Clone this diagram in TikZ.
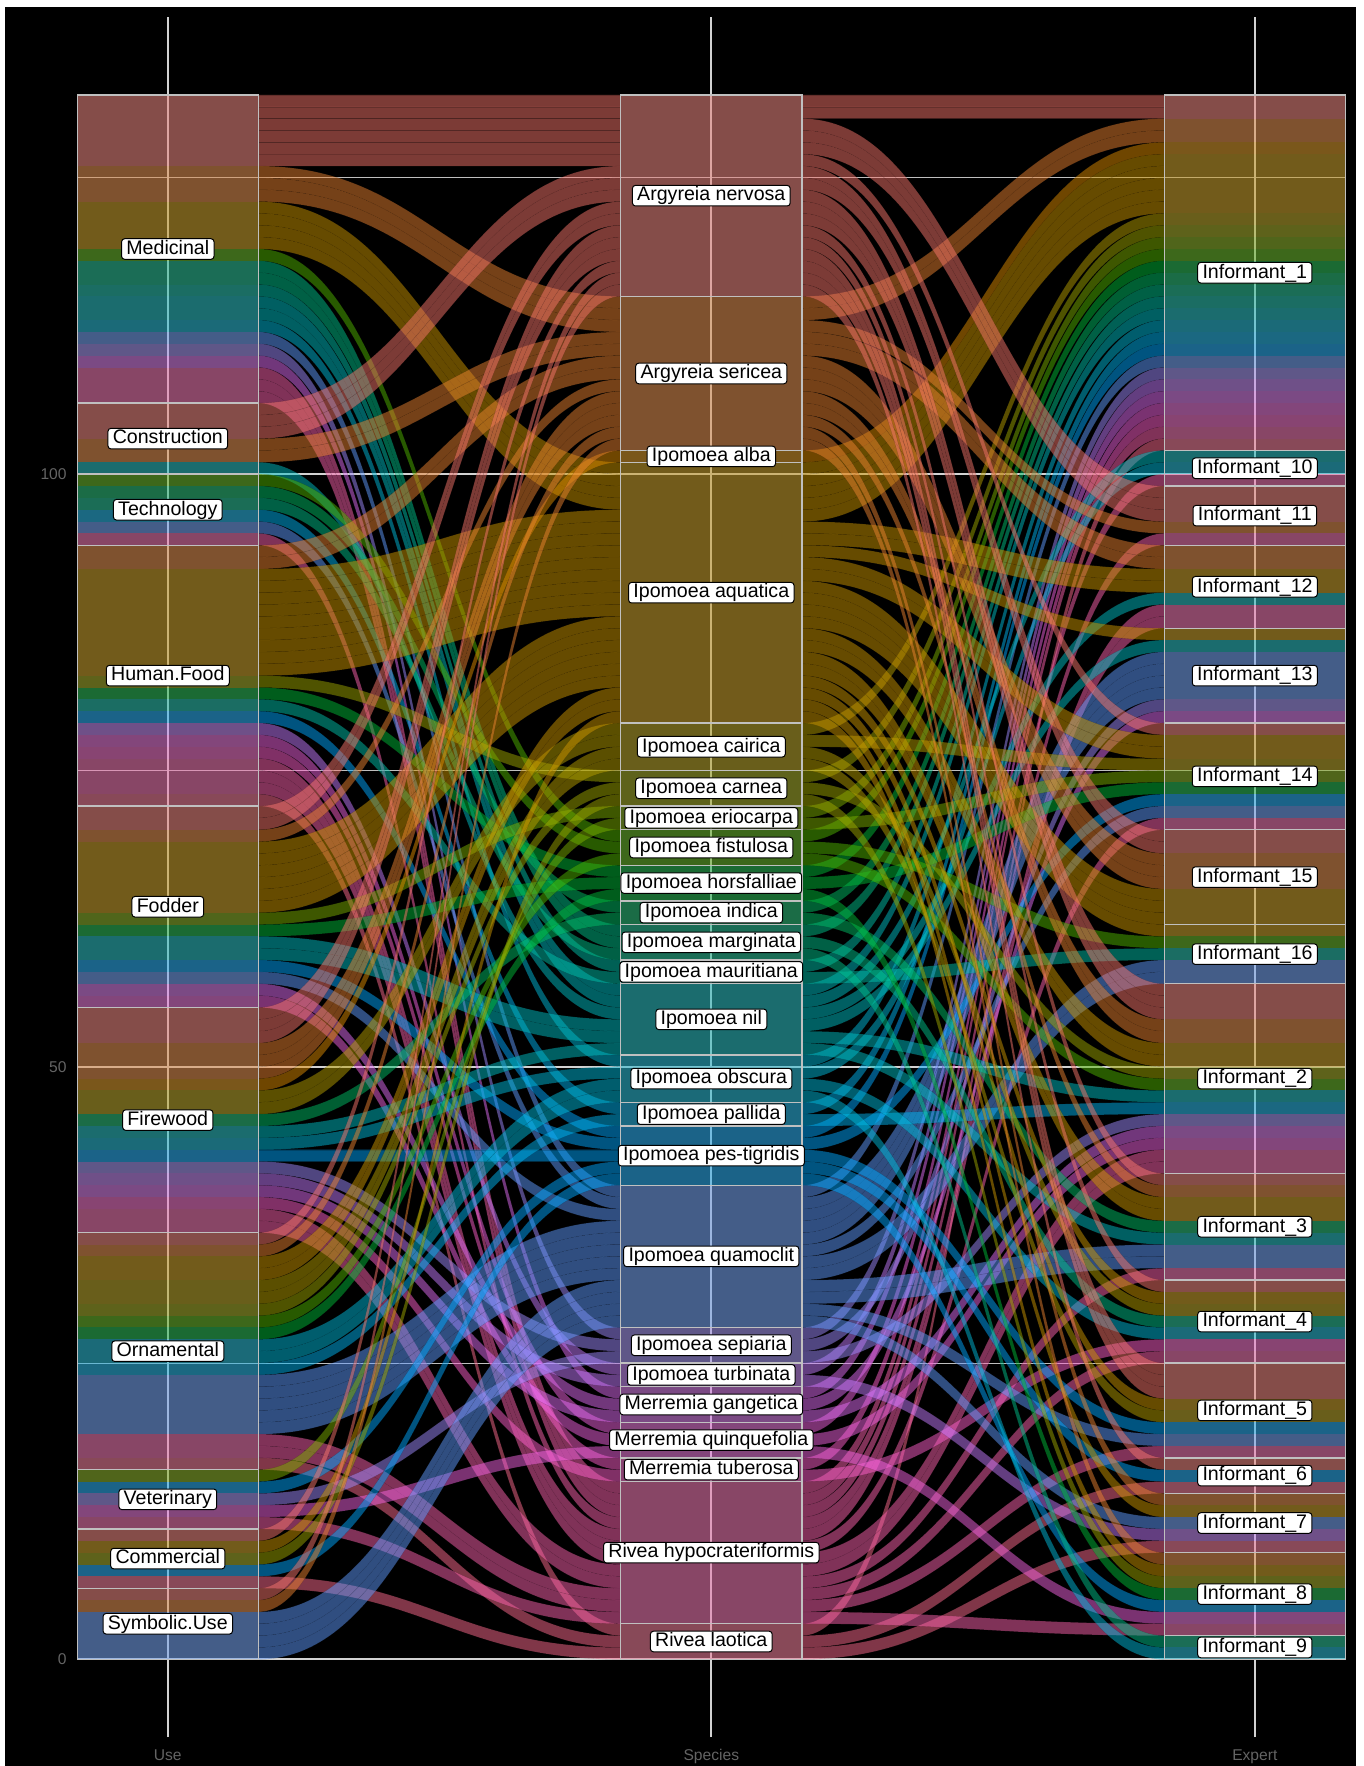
\documentclass[tikz,border=0pt]{standalone}
\usepackage{fontspec}
\setmainfont{Liberation Sans}
\definecolor{sp1}{HTML}{F8766D}
\definecolor{sp2}{HTML}{EA8331}
\definecolor{sp3}{HTML}{DE8C00}
\definecolor{sp4}{HTML}{CD9600}
\definecolor{sp5}{HTML}{B79F00}
\definecolor{sp6}{HTML}{9EA700}
\definecolor{sp7}{HTML}{7CAE00}
\definecolor{sp8}{HTML}{50B400}
\definecolor{sp9}{HTML}{00BA38}
\definecolor{sp10}{HTML}{00BE67}
\definecolor{sp11}{HTML}{00C08B}
\definecolor{sp12}{HTML}{00C0AA}
\definecolor{sp13}{HTML}{00BFC4}
\definecolor{sp14}{HTML}{00BBDB}
\definecolor{sp15}{HTML}{00B4F0}
\definecolor{sp16}{HTML}{00A9FF}
\definecolor{sp17}{HTML}{619CFF}
\definecolor{sp18}{HTML}{A18CFF}
\definecolor{sp19}{HTML}{C77CFF}
\definecolor{sp20}{HTML}{E36EF6}
\definecolor{sp21}{HTML}{F564E3}
\definecolor{sp22}{HTML}{FF61CC}
\definecolor{sp23}{HTML}{FF64B0}
\definecolor{sp24}{HTML}{FF6C91}
\definecolor{stratgray}{RGB}{185,185,185}
\definecolor{stratline}{RGB}{192,192,192}
\definecolor{gridmaj}{RGB}{210,210,210}
\definecolor{gridmin}{RGB}{190,190,190}
\definecolor{axgray}{RGB}{100,100,100}
\tikzset{
  flowband/.style={fill opacity=0.5, draw=black, draw opacity=0.2, line width=0.15pt},
  lodefill/.style={fill opacity=0.5},
  stratover/.style={fill=stratgray, fill opacity=0.15, draw=stratline, line width=0.7pt},
  lbl/.style={fill=white, draw=black, line width=0.5pt, rounded corners=1.5pt,
    font=\fontsize{9.8pt}{10pt}\selectfont, text=black, inner xsep=2.4pt,
    inner ysep=0.9pt, text height=6.9pt, text depth=1.6pt},
  axtxt/.style={text=axgray, font=\fontsize{7.8pt}{9pt}\selectfont},
  majgrid/.style={draw=gridmaj, line width=0.9pt},
  mingrid/.style={draw=gridmin, line width=0.5pt},
}
\def\UL{77.2}\def\UR{258.4}\def\SL{620.7}\def\SR{801.9}\def\EL{1164.2}\def\ER{1345.4}
\def\dd{165}
\newcommand\spdef[2]{%
  \expandafter\xdef\csname ls#1\endcsname{#2}%
  \expandafter\xdef\csname rs#1\endcsname{#2}}
\newcommand\leftstrat[2]{%
  \xdef\curtop{#1}%
  \foreach \spi/\cnt in {#2}{%
    \pgfmathsetmacro\ytA{\curtop}%
    \pgfmathsetmacro\ytB{\curtop-\cnt}%
    \edef\ysA{\csname ls\spi\endcsname}%
    \pgfmathsetmacro\ysB{\ysA-\cnt}%
    \fill[fill=sp\spi, lodefill] (\UL,\ytB) rectangle (\UR,\ytA);
    \foreach \k in {1,...,\cnt}{%
      \pgfmathsetmacro\uA{\ytA-\k+1}\pgfmathsetmacro\uB{\ytA-\k}%
      \pgfmathsetmacro\vA{\ysA-\k+1}\pgfmathsetmacro\vB{\ysA-\k}%
      \filldraw[fill=sp\spi, flowband] (\UR,\uA) .. controls (\UR+\dd,\uA) and (\SL-\dd,\vA) .. (\SL,\vA)
        -- (\SL,\vB) .. controls (\SL-\dd,\vB) and (\UR+\dd,\uB) .. (\UR,\uB) -- cycle;
    }%
    \expandafter\xdef\csname ls\spi\endcsname{\ysB}%
    \xdef\curtop{\ytB}%
  }}
\newcommand\rightstrat[2]{%
  \xdef\curtop{#1}%
  \foreach \spi/\cnt in {#2}{%
    \pgfmathsetmacro\ytA{\curtop}%
    \pgfmathsetmacro\ytB{\curtop-\cnt}%
    \edef\ysA{\csname rs\spi\endcsname}%
    \pgfmathsetmacro\ysB{\ysA-\cnt}%
    \fill[fill=sp\spi, lodefill] (\EL,\ytB) rectangle (\ER,\ytA);
    \foreach \k in {1,...,\cnt}{%
      \pgfmathsetmacro\uA{\ytA-\k+1}\pgfmathsetmacro\uB{\ytA-\k}%
      \pgfmathsetmacro\vA{\ysA-\k+1}\pgfmathsetmacro\vB{\ysA-\k}%
      \filldraw[fill=sp\spi, flowband] (\SR,\vA) .. controls (\SR+\dd,\vA) and (\EL-\dd,\uA) .. (\EL,\uA)
        -- (\EL,\uB) .. controls (\EL-\dd,\uB) and (\SR+\dd,\vB) .. (\SR,\vB) -- cycle;
    }%
    \expandafter\xdef\csname rs\spi\endcsname{\ysB}%
    \xdef\curtop{\ytB}%
  }}
\begin{document}
\begin{tikzpicture}[x=0.5pt, y=5.9255pt]
\useasboundingbox (0,-9.0017) rectangle (1363,140.014);
\fill[white] (0,-9.0017) rectangle (1363,140.014);
\fill[black] (5,-9.0017) rectangle (1356,139.423);
% grid
\foreach \g in {25,75,125} \draw[mingrid] (\UL,\g) -- (\ER,\g);
\foreach \g in {0,50,100} \draw[majgrid] (\UL,\g) -- (\ER,\g);
\foreach \gx in {167.8,711.3,1254.8} \draw[majgrid] (\gx,-6.56) -- (\gx,138.6);
% species tops
\spdef{1}{132}\spdef{2}{115}\spdef{3}{102}\spdef{4}{101}\spdef{5}{79}\spdef{6}{75}
\spdef{7}{72}\spdef{8}{70}\spdef{9}{67}\spdef{10}{64}\spdef{11}{62}\spdef{12}{59}
\spdef{13}{57}\spdef{14}{51}\spdef{15}{47}\spdef{16}{45}\spdef{17}{40}\spdef{18}{28}
\spdef{19}{25}\spdef{20}{23}\spdef{21}{20}\spdef{22}{17}\spdef{23}{15}\spdef{24}{3}
% flows Use -> Species
\leftstrat{132}{1/6,2/3,4/4,8/1,11/2,12/1,13/2,14/1,17/1,18/1,20/1,23/3}
\leftstrat{106}{1/3,2/2,13/1}
\leftstrat{100}{8/1,10/1,11/1,15/1,17/1,23/1}
\leftstrat{94}{2/2,4/9,6/1,9/1,12/1,16/1,19/1,21/1,22/1,23/3,24/1}
\leftstrat{72}{1/2,2/1,4/6,7/1,9/1,13/2,16/1,17/1,20/1,21/1}
\leftstrat{55}{1/3,2/3,3/1,5/2,10/1,13/1,14/1,16/1,18/1,19/1,20/1,22/1,23/2}
\leftstrat{36}{1/1,2/1,4/2,5/2,6/1,8/1,9/1,14/2,15/1,17/5,23/2,24/1}
\leftstrat{16}{7/1,16/1,18/1,21/1,23/1}
\leftstrat{11}{1/1,4/1,6/1,16/1,24/1}
\leftstrat{6}{1/1,2/1,17/4}
% flows Species -> Expert
\rightstrat{132}{1/2,2/2,3/1,4/5,5/1,6/1,7/1,8/1,9/1,10/1,11/1,12/1,13/1,14/1,15/1,16/1,17/1,18/1,19/1,20/1,21/1,22/1,23/1,24/1}
\rightstrat{102}{13/1,14/1,23/1}
\rightstrat{99}{1/3,2/1,23/1}
\rightstrat{94}{2/2,4/2,13/1,23/2}
\rightstrat{87}{4/1,13/1,17/4,18/1,20/1}
\rightstrat{79}{1/1,4/2,5/1,7/1,9/1,16/1,17/1,23/1}
\rightstrat{70}{1/2,2/3,4/3}
\rightstrat{62}{4/1,8/1,12/1,17/2}
\rightstrat{57}{1/3,2/2,4/2,6/1,8/1,13/1,15/1,18/1,20/1,21/1,23/2}
\rightstrat{41}{1/1,2/1,4/2,10/1,13/1,17/2,23/1}
\rightstrat{32}{1/1,4/1,5/1,11/1,14/1,22/1,23/1}
\rightstrat{25}{1/3,4/1,5/1,16/1,17/1,23/1}
\rightstrat{17}{1/1,16/1,24/1}
\rightstrat{14}{2/1,4/1,17/1,19/1,24/1}
\rightstrat{9}{2/1,4/1,6/1,9/1,16/1,21/1,23/1}
\rightstrat{2}{11/1,14/1}
% species strata fill
\foreach \i/\a/\b in {1/132/115,2/115/102,3/102/101,4/101/79,5/79/75,6/75/72,7/72/70,8/70/67,
  9/67/64,10/64/62,11/62/59,12/59/57,13/57/51,14/51/47,15/47/45,16/45/40,17/40/28,18/28/25,
  19/25/23,20/23/20,21/20/17,22/17/15,23/15/3,24/3/0}
  \fill[fill=sp\i, lodefill] (\SL,\b) rectangle (\SR,\a);
% strata overlays
\foreach \a/\b in {132/106,106/100,100/94,94/72,72/55,55/36,36/16,16/11,11/6,6/0}
  \draw[stratover] (\UL,\b) rectangle (\UR,\a);
\foreach \a/\b in {132/115,115/102,102/101,101/79,79/75,75/72,72/70,70/67,67/64,64/62,62/59,
  59/57,57/51,51/47,47/45,45/40,40/28,28/25,25/23,23/20,20/17,17/15,15/3,3/0}
  \draw[stratover] (\SL,\b) rectangle (\SR,\a);
\foreach \a/\b in {132/102,102/99,99/94,94/87,87/79,79/70,70/62,62/57,57/41,41/32,32/25,
  25/17,17/14,14/9,9/2,2/0}
  \draw[stratover] (\EL,\b) rectangle (\ER,\a);
% Use labels
\node[lbl] (uMed) at (167.8,119) {Medicinal};
\node[lbl] (uCon) at (167.8,103) {Construction};
\node[lbl] (uTec) at (167.8,97) {Technology};
\node[lbl] (uHF) at (167.8,83) {Human.Food};
\node[lbl] (uFod) at (167.8,63.5) {Fodder};
\node[lbl] (uFir) at (167.8,45.5) {Firewood};
\node[lbl] (uOrn) at (167.8,26) {Ornamental};
\node[lbl] (uVet) at (167.8,13.5) {Veterinary};
\node[lbl] (uCom) at (167.8,8.5) {Commercial};
\node[lbl] (uSym) at (167.8,3) {Symbolic.Use};
% Species labels
\node[lbl] (s1) at (711.3,123.5) {Argyreia nervosa};
\node[lbl] (s2) at (711.3,108.5) {Argyreia sericea};
\node[lbl] (s3) at (711.3,101.5) {Ipomoea alba};
\node[lbl] (s4) at (711.3,90) {Ipomoea aquatica};
\node[lbl] (s5) at (711.3,77) {Ipomoea cairica};
\node[lbl] (s6) at (711.3,73.5) {Ipomoea carnea};
\node[lbl] (s7) at (711.3,71) {Ipomoea eriocarpa};
\node[lbl] (s8) at (711.3,68.5) {Ipomoea fistulosa};
\node[lbl] (s9) at (711.3,65.5) {Ipomoea horsfalliae};
\node[lbl] (s10) at (711.3,63) {Ipomoea indica};
\node[lbl] (s11) at (711.3,60.5) {Ipomoea marginata};
\node[lbl] (s12) at (711.3,58) {Ipomoea mauritiana};
\node[lbl] (s13) at (711.3,54) {Ipomoea nil};
\node[lbl] (s14) at (711.3,49) {Ipomoea obscura};
\node[lbl] (s15) at (711.3,46) {Ipomoea pallida};
\node[lbl] (s16) at (711.3,42.5) {Ipomoea pes-tigridis};
\node[lbl] (s17) at (711.3,34) {Ipomoea quamoclit};
\node[lbl] (s18) at (711.3,26.5) {Ipomoea sepiaria};
\node[lbl] (s19) at (711.3,24) {Ipomoea turbinata};
\node[lbl] (s20) at (711.3,21.5) {Merremia gangetica};
\node[lbl] (s21) at (711.3,18.5) {Merremia quinquefolia};
\node[lbl] (s22) at (711.3,16) {Merremia tuberosa};
\node[lbl] (s23) at (711.3,9) {Rivea hypocrateriformis};
\node[lbl] (s24) at (711.3,1.5) {Rivea laotica};
% Expert labels
\node[lbl] (e1) at (1254.8,117) {Informant\_1};
\node[lbl] (e10) at (1254.8,100.5) {Informant\_10};
\node[lbl] (e11) at (1254.8,96.5) {Informant\_11};
\node[lbl] (e12) at (1254.8,90.5) {Informant\_12};
\node[lbl] (e13) at (1254.8,83) {Informant\_13};
\node[lbl] (e14) at (1254.8,74.5) {Informant\_14};
\node[lbl] (e15) at (1254.8,66) {Informant\_15};
\node[lbl] (e16) at (1254.8,59.5) {Informant\_16};
\node[lbl] (e2) at (1254.8,49) {Informant\_2};
\node[lbl] (e3) at (1254.8,36.5) {Informant\_3};
\node[lbl] (e4) at (1254.8,28.5) {Informant\_4};
\node[lbl] (e5) at (1254.8,21) {Informant\_5};
\node[lbl] (e6) at (1254.8,15.5) {Informant\_6};
\node[lbl] (e7) at (1254.8,11.5) {Informant\_7};
\node[lbl] (e8) at (1254.8,5.5) {Informant\_8};
\node[lbl] (e9) at (1254.8,1) {Informant\_9};
% axis text
\node[axtxt, anchor=east, inner sep=0pt] (y0) at (67,0) {0};
\node[axtxt, anchor=east, inner sep=0pt] (y50) at (67,50) {50};
\node[axtxt, anchor=east, inner sep=0pt] (y100) at (67,100) {100};
\node[axtxt, anchor=base, inner sep=0pt] (xU) at (167.8,-8.55) {Use};
\node[axtxt, anchor=base, inner sep=0pt] (xS) at (711.3,-8.55) {Species};
\node[axtxt, anchor=base, inner sep=0pt] (xE) at (1254.8,-8.55) {Expert};
\end{tikzpicture}
\end{document}
